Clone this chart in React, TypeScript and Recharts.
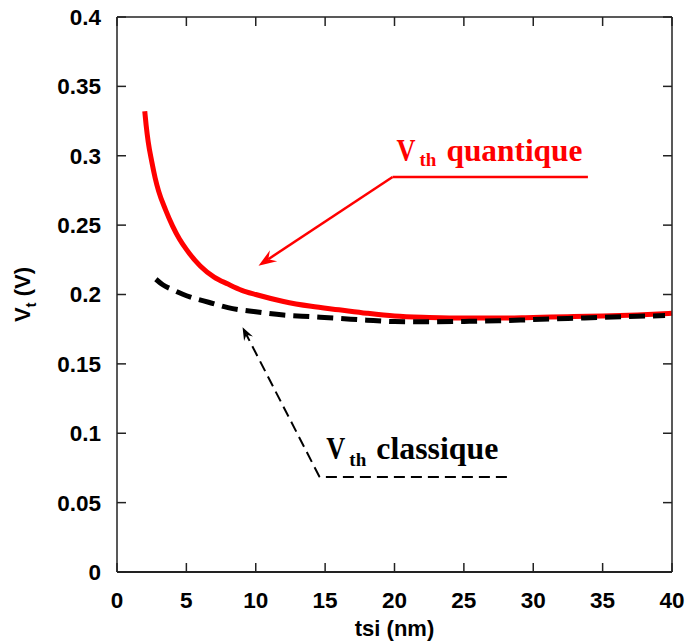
import { LineChart, Line, XAxis, YAxis, ReferenceLine, ReferenceDot } from 'recharts';

// Vth quantique (red) and Vth classique (black dashed)
const quantTsi = [2, 2.1, 2.25, 2.5, 2.75, 3, 3.5, 4, 4.5, 5, 6, 7, 8, 9, 10, 12, 14, 16, 18, 20, 22.5, 25, 27.5, 30, 32.5, 35, 37.5, 40];
const quantVt = [0.332, 0.322, 0.31, 0.296, 0.284, 0.2745, 0.261, 0.2495, 0.24, 0.2325, 0.2205, 0.2125, 0.2075, 0.203, 0.2, 0.195, 0.1915, 0.189, 0.1865, 0.1845, 0.1835, 0.183, 0.183, 0.1835, 0.184, 0.1845, 0.1853, 0.1865];

const classTsi = [2.8, 3.3, 4, 4.7, 5.5, 6.6, 8, 10, 12, 14, 16, 18, 20, 22.5, 25, 27.5, 30, 32.5, 35, 37.5, 39.5];
const classVt = [0.211, 0.207, 0.2035, 0.2004, 0.1975, 0.1944, 0.1905, 0.1875, 0.1852, 0.184, 0.1828, 0.1815, 0.1805, 0.1803, 0.1806, 0.1811, 0.1819, 0.1827, 0.1836, 0.1843, 0.1848];

const xTicks = [0, 5, 10, 15, 20, 25, 30, 35, 40];
const yTicks = [0, 0.05, 0.1, 0.15, 0.2, 0.25, 0.3, 0.35, 0.4];
const xMax = 40;
const yMax = 0.4;

// two interior points; the frame shape reads the axis scales off them
const frameA = { x: 10, y: 0.1 };
const frameB = { x: 30, y: 0.3 };

// annotation anchors, in data units
const quantLabelAt = { x: 20.14, y: 0.296 };
const quantElbow = { x: 19.86, y: 0.2847 };
const quantLineEnd = { x: 33.94, y: 0.2847 };
const quantTip = { x: 10.2, y: 0.2208 };

const classLabelAt = { x: 15.09, y: 0.0814 };
const classElbow = { x: 14.6, y: 0.0685 };
const classLineEnd = { x: 28.1, y: 0.0685 };
const classTip = { x: 9.05, y: 0.1764 };

const quantData = quantTsi.map((t, i) => ({ tsi: t, vt: quantVt[i] }));
const classData = classTsi.map((t, i) => ({ tsi: t, vt: classVt[i] }));

const AXIS = '#222';
const TICK_FONT = { fontFamily: 'Liberation Sans, Arial, sans-serif', fontWeight: 'bold' as const, fontSize: 22.5, fill: '#000' };
const SERIF = 'Liberation Serif, Times New Roman, serif';

const LeftTick = (props: any) => {
  const { x, y, payload } = props;
  return (
    <g>
      <line x1={x + 16} x2={x + 25} y1={y} y2={y} stroke={AXIS} strokeWidth={1.5} />
      <text x={x} y={y} dy="0.355em" textAnchor="end" {...TICK_FONT}>{payload.value}</text>
    </g>
  );
};

const BottomTick = (props: any) => {
  const { x, y, payload } = props;
  return (
    <g>
      <line x1={x} x2={x} y1={y - 20} y2={y - 29} stroke={AXIS} strokeWidth={1.5} />
      <text x={x} y={y} dy="0.71em" textAnchor="middle" {...TICK_FONT}>{payload.value}</text>
    </g>
  );
};

// top and right edges of the box plus their inward ticks
const frameShape = (p: any) => {
  const kx = (p.x2 - p.x1) / (frameB.x - frameA.x);
  const ky = (p.y2 - p.y1) / (frameB.y - frameA.y);
  const X = (v: number) => p.x1 + (v - frameA.x) * kx;
  const Y = (v: number) => p.y1 + (v - frameA.y) * ky;
  const top = Y(yMax);
  const right = X(xMax);
  return (
    <g stroke={AXIS} strokeWidth={1.5} fill="none">
      <line x1={X(0)} y1={top} x2={right} y2={top} />
      <line x1={right} y1={Y(0)} x2={right} y2={top} />
      {xTicks.map((t) => (
        <line key={`t${t}`} x1={X(t)} x2={X(t)} y1={top} y2={top + 9} />
      ))}
      {yTicks.map((v) => (
        <line key={`r${v}`} x1={right} x2={right - 9} y1={Y(v)} y2={Y(v)} />
      ))}
    </g>
  );
};

function arrowShape(color: string, width: number, dash: string | undefined, len: number, half: number) {
  return (p: any) => {
    const { x1, y1, x2, y2 } = p;
    const a = Math.atan2(y2 - y1, x2 - x1);
    const c = Math.cos(a);
    const s = Math.sin(a);
    const bx = x2 - len * c;
    const by = y2 - len * s;
    const nx = x2 - len * 0.65 * c;
    const ny = y2 - len * 0.65 * s;
    const pts = `${x2},${y2} ${bx - half * s},${by + half * c} ${nx},${ny} ${bx + half * s},${by - half * c}`;
    return (
      <g>
        <line x1={x1} y1={y1} x2={nx} y2={ny} stroke={color} strokeWidth={width} strokeDasharray={dash} />
        <polygon points={pts} fill={color} />
      </g>
    );
  };
}

function vthLabel(color: string, word: string, wordWidth: number, subDy: number) {
  return (p: any) => (
    <g fill={color} fontFamily={SERIF} fontWeight="bold">
      <text x={p.cx} y={p.cy} fontSize={32} textLength={19} lengthAdjust="spacingAndGlyphs">V</text>
      <text x={p.cx + 23} y={p.cy + subDy} fontSize={19}>th</text>
      <text x={p.cx + 50} y={p.cy} fontSize={32} textLength={wordWidth} lengthAdjust="spacingAndGlyphs">{word}</text>
    </g>
  );
}

const YTitle = (props: any) => {
  const vb = props.viewBox;
  const cx = 30;
  const cy = vb.y + vb.height / 2;
  return (
    <text x={cx} y={cy} transform={`rotate(-90, ${cx}, ${cy})`} textAnchor="middle" {...TICK_FONT} fontSize={22}>
      V<tspan dy={6} fontSize={15}>t</tspan>
      <tspan dy={-6}> (V)</tspan>
    </text>
  );
};

const XTitle = (props: any) => {
  const vb = props.viewBox;
  return (
    <text x={vb.x + vb.width / 2} y={636} textAnchor="middle" {...TICK_FONT} fontSize={22}>
      tsi (nm)
    </text>
  );
};

export default function App() {
  return (
    <div style={{ position: 'absolute', left: 0, top: 0, background: '#fff' }}>
      <LineChart width={688} height={642} margin={{ top: 17, right: 16, bottom: 0, left: 0 }}>
        <XAxis
          type="number"
          dataKey="tsi"
          domain={[0, xMax]}
          ticks={xTicks}
          height={70}
          tickSize={0}
          tickMargin={20}
          tickLine={false}
          tick={BottomTick}
          axisLine={{ stroke: AXIS, strokeWidth: 2 }}
          label={{ content: XTitle }}
        />
        <YAxis
          type="number"
          domain={[0, yMax]}
          ticks={yTicks}
          width={117}
          tickSize={0}
          tickMargin={16}
          tickLine={false}
          tick={LeftTick}
          axisLine={{ stroke: AXIS, strokeWidth: 1.5 }}
          label={{ content: YTitle }}
        />
        <Line
          data={quantData}
          dataKey="vt"
          type="monotone"
          stroke="#ff0000"
          strokeWidth={5}
          dot={false}
          activeDot={false}
          isAnimationActive={false}
        />
        <Line
          data={classData}
          dataKey="vt"
          type="monotone"
          stroke="#000"
          strokeWidth={5}
          strokeDasharray="16 8"
          dot={false}
          activeDot={false}
          isAnimationActive={false}
        />
        <ReferenceLine segment={[frameA, frameB]} shape={frameShape} />
        <ReferenceLine segment={[quantLineEnd, quantElbow]} stroke="#ff0000" strokeWidth={2.5} />
        <ReferenceLine segment={[quantElbow, quantTip]} shape={arrowShape('#ff0000', 2.5, undefined, 18, 6.5)} />
        <ReferenceLine segment={[classLineEnd, classElbow]} stroke="#000" strokeWidth={2} strokeDasharray="11 6" />
        <ReferenceLine segment={[classElbow, classTip]} shape={arrowShape('#000', 2, '11 6', 13, 5)} />
        <ReferenceDot x={quantLabelAt.x} y={quantLabelAt.y} r={0} shape={vthLabel('#ff0000', 'quantique', 136, 5)} />
        <ReferenceDot x={classLabelAt.x} y={classLabelAt.y} r={0} shape={vthLabel('#000', 'classique', 122, 7)} />
      </LineChart>
    </div>
  );
}
